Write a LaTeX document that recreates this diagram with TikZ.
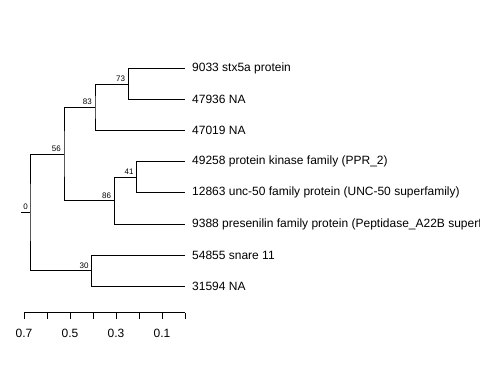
\documentclass[tikz,border=0pt]{standalone}
\usepackage{fontspec}
\setmainfont{Liberation Sans}
\usetikzlibrary{calc}
\begin{document}
\begin{tikzpicture}[x=1pt,y=-1pt,
  edge/.style={line width=0.75pt,black},
  leaf/.style={anchor=west,inner sep=0pt,font=\fontsize{12}{14}\selectfont},
  boot/.style={anchor=south east,inner sep=0pt,font=\fontsize{8}{9}\selectfont},
  ticklab/.style={anchor=center,inner sep=0pt,font=\fontsize{12}{14}\selectfont}]
\useasboundingbox (0,0) rectangle (480,384);
\clip (0,0) rectangle (480,384);
% leaf tips
\coordinate (t1) at (185,68.5);
\coordinate (t2) at (185,99.5);
\coordinate (t3) at (185,130.5);
\coordinate (t4) at (185,161.5);
\coordinate (t5) at (185,192.5);
\coordinate (t6) at (185,224);
\coordinate (t7) at (185,255);
\coordinate (t8) at (185,286);
% leaf labels
\node[leaf] (l1) at (192,68.5) {9033 stx5a protein};
\node[leaf] (l2) at (192,99.5) {47936 NA};
\node[leaf] (l3) at (192,130.5) {47019 NA};
\node[leaf] (l4) at (192,161.5) {49258 protein kinase family (PPR\_2)};
\node[leaf] (l5) at (192,192.5) {12863 unc-50 family protein (UNC-50 superfamily)};
\node[leaf] (l6) at (192,224) {9388 presenilin family protein (Peptidase\_A22B superfamily)};
\node[leaf] (l7) at (192,255) {54855 snare 11};
\node[leaf] (l8) at (192,286) {31594 NA};
% internal nodes
\coordinate (n73) at (128.3,84);
\coordinate (n83) at (95,107.25);
\coordinate (n41) at (136.7,177);
\coordinate (n86) at (114.3,200.5);
\coordinate (n56) at (64,153.9);
\coordinate (n30) at (91.7,270.5);
\coordinate (n0) at (30,212.2);
\coordinate (stub) at (21,212.2);
% edges
\draw[edge] (t1) -| (n73) |- (t2);
\draw[edge] (n73) -| (n83) |- (t3);
\draw[edge] (t4) -| (n41) |- (t5);
\draw[edge] (n41) -| (n86) |- (t6);
\draw[edge] (n83) -| (n56) |- (n86);
\draw[edge] (t7) -| (n30) |- (t8);
\draw[edge] (n56) -| (n0) |- (n30);
\draw[edge] (stub) -- (n0);
% bootstrap labels
\node[boot] (b73) at ([xshift=-3pt,yshift=2pt]n73) {73};
\node[boot] (b83) at ([xshift=-3pt,yshift=2pt]n83) {83};
\node[boot] (b41) at ([xshift=-3pt,yshift=2pt]n41) {41};
\node[boot] (b86) at ([xshift=-3pt,yshift=2pt]n86) {86};
\node[boot] (b56) at ([xshift=-3pt,yshift=2pt]n56) {56};
\node[boot] (b30) at ([xshift=-3pt,yshift=2pt]n30) {30};
\node[boot] (b0) at ([xshift=-2pt,yshift=2pt]n0) {0};
% scale axis
\coordinate (a0) at (24,312.5);
\coordinate (a1) at (185,312.5);
\draw[edge] (a0) -- (a1);
\foreach \i in {0,...,7} {
  \draw[edge] ($(a0)+(\i*23,0)$) -- ++(0,6);
}
\node[ticklab] (x07) at (24,333) {0.7};
\node[ticklab] (x05) at (70,333) {0.5};
\node[ticklab] (x03) at (116,333) {0.3};
\node[ticklab] (x01) at (162,333) {0.1};
\end{tikzpicture}
\end{document}
